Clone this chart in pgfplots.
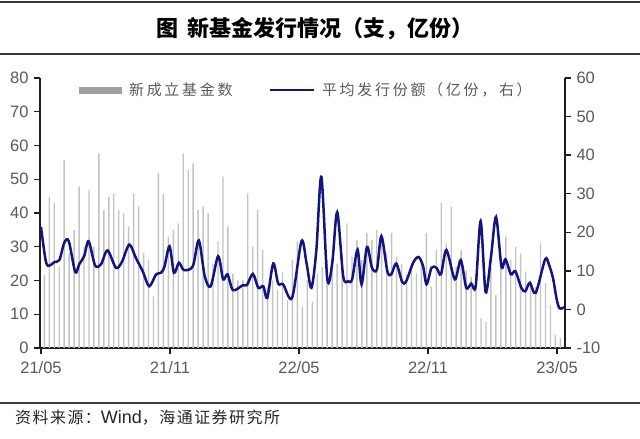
\documentclass[border=0pt]{standalone}
\usepackage{fontspec}
\setmainfont{Liberation Sans}
\newfontfamily\cjk{Noto Sans CJK SC}
\newfontfamily\cjkls[LetterSpace=18]{Noto Sans CJK SC}
\newfontfamily\cjksrc[LetterSpace=9]{Noto Sans CJK SC}
\usepackage{pgfplots}
\usepackage{pgfplotstable}
\pgfplotsset{compat=1.18}
\definecolor{barc}{RGB}{195,195,195}
\definecolor{legbar}{RGB}{160,160,160}
\definecolor{navyl}{RGB}{20,20,128}
\definecolor{txtg}{RGB}{89,89,89}
\definecolor{axc}{RGB}{30,30,30}
\definecolor{rulec}{RGB}{60,60,60}

\pgfplotstableread{
n
21.6
44.8
42.9
24
55.7
28
35
47.8
30
46.8
30
57.7
40.9
44.8
45.8
40.9
39.9
36
45.8
41.9
28
26
15.2
51.8
45.8
33
35
36.9
57.7
52.7
54.7
40.9
41.9
39.9
25
31.6
50.8
36
22
20
20.1
45.8
30
40.9
29
18
20
17.2
22.6
14
26
31.5
12.2
20
13.7
22
24
26
27
25
28
36.9
27
32
26
34
32
35
32
28
34
27
25
22
24
22
26
34
18.2
29
42.9
31
41.9
24
29
23
21.1
22
8.9
7.8
24
15.7
25.5
33
26
30
28
22.6
20
18
31
19.2
12.7
3.9
3
}\bars

\pgfplotstableread{
x y
0 21.4
1.0 12.3
1.8 11.4
2.7 12.3
3.7 12.8
4.7 17.3
5.6 17.7
6.9 9.7
7.7 11.7
8.7 13.8
9.6 17.7
10.9 11.4
12.1 11.7
13.4 15.3
15.1 10.8
16.3 12.3
17.8 16.8
19.1 13.4
20.5 9.9
21.8 6.0
23.2 9.1
24.2 9.5
24.9 11.2
25.9 16.4
26.8 9.5
27.8 12.1
28.8 10.2
30.6 11.2
31.8 17.9
33.0 8.6
34.2 6.0
35.7 13.8
36.7 7.8
37.6 9.1
38.7 5.0
40.7 6.3
41.5 6.3
42.7 9.2
43.8 5.6
44.8 6.0
45.6 3.0
46.8 11.9
47.8 6.7
48.8 6.5
50.6 3.0
52.5 17.7
53.5 12.1
54.5 5.6
55.5 15.5
56.5 34.4
57.7 7.8
58.7 12.1
59.7 25.2
60.9 8.6
61.9 7.3
62.7 7.8
63.8 15.5
64.6 6.5
65.7 16.2
66.7 10.8
67.7 10.4
68.6 19.0
69.8 9.9
70.6 9.1
71.6 11.9
72.8 7.1
73.6 7.3
75.0 12.1
76.1 13.6
77.0 11.2
77.7 6.5
78.7 10.8
79.7 10.8
80.6 9.1
81.7 15.4
83.4 7.8
84.6 12.8
85.7 5.6
86.7 6.7
87.6 6.0
88.6 22.9
89.6 4.5
90.7 13.8
91.7 24.0
92.8 11.1
93.6 13.0
94.7 9.1
95.6 9.9
96.8 5.6
97.6 4.7
98.5 6.9
99.7 4.3
101.6 13.0
102.4 11.5
103.2 8.0
103.9 2.8
104.5 0.3
105.5 0.6
}\linedata

\begin{document}
\begin{tikzpicture}
\path[use as bounding box] (0,0) rectangle (640pt,439pt);
% header rules and title
\draw[rulec, line width=1.4pt] (0,437pt) -- (640pt,437pt);
\draw[rulec, line width=1.4pt] (0,385pt) -- (640pt,385pt);
\node[anchor=center, inner sep=0pt] at (315pt,410pt)
  {\fontsize{22}{24}\cjk\bfseries 图\hspace{10pt}新基金发行情况（支，亿份）};
% footer
\draw[rulec, line width=1.4pt] (0,36pt) -- (640pt,36pt);
\node[anchor=west, inner sep=0pt, text=black!85] at (15pt,21pt)
  {\fontsize{16}{18}\cjksrc 资料来源：{\fontsize{18}{20}\selectfont\rmfamily Wind}，海通证券研究所};

\begin{axis}[
  at={(40pt,91pt)}, anchor=south west,
  width=525pt, height=270pt, scale only axis,
  xmin=-0.2, xmax=105.6, ymin=0, ymax=80,
  axis x line*=bottom, axis y line*=left,
  axis line style={-, line width=1.3pt, color=axc},
  tick align=outside, major tick length=6pt,
  tick style={line width=1.3pt, color=axc},
  xtick={0,26,52,78,104}, xticklabels={21/05,21/11,22/05,22/11,23/05},
  ytick={0,10,...,80},
  /pgf/number format/assume math mode=true,
  ticklabel style={font=\fontsize{16.5}{18}\selectfont, text=txtg},
  yticklabel style={xshift=-2pt},
  xticklabel style={yshift=-4pt},
  legend style={draw=none, fill=none, at={(0.074,0.955)}, anchor=west,
    inner sep=0pt, font=\fontsize{15}{16}\cjkls, text=txtg,
    /tikz/every odd column/.append style={column sep=5pt},
    /tikz/every even column/.append style={column sep=34pt}},
  legend columns=2,
]
\addplot[ybar, bar width=1.4pt, fill=barc, draw=none, bar shift=0pt,
  legend image code/.code={\fill[legbar] (0pt,-3.5pt) rectangle (43pt,3.5pt);}]
  table[x expr=\coordindex+0.67, y index=0] {\bars};
\addlegendentry{新成立基金数}
\addlegendimage{legend image code/.code={\draw[navyl, line width=2.5pt] (0pt,0pt) -- (44pt,0pt);}}
\addlegendentry{平均发行份额（亿份，右）}
\end{axis}

\begin{axis}[
  at={(40pt,91pt)}, anchor=south west,
  width=525pt, height=270pt, scale only axis,
  xmin=-0.2, xmax=105.6, ymin=-10, ymax=60,
  axis x line=none, axis y line*=right,
  axis line style={-, line width=1.3pt, color=axc},
  tick align=outside, major tick length=6pt,
  tick style={line width=1.3pt, color=axc},
  ytick={-10,0,...,60},
  /pgf/number format/assume math mode=true,
  ticklabel style={font=\fontsize{16.5}{18}\selectfont, text=txtg},
  yticklabel style={xshift=2pt},
]
\addplot[navyl, line width=2.5pt, smooth, tension=0.5] table[x=x, y=y] {\linedata};
\end{axis}
\end{tikzpicture}
\end{document}
